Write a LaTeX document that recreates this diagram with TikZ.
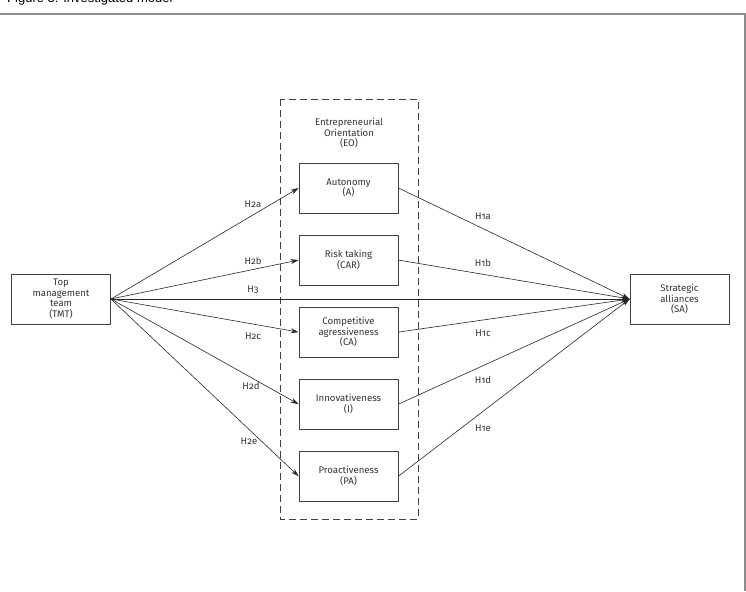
\documentclass[tikz,border=0pt]{standalone}
\usepackage{fontspec}
\setmainfont{Fira Sans}[Numbers=OldStyle]
\newfontfamily\capfont{Liberation Sans}
\usetikzlibrary{arrows.meta,positioning}

\begin{document}
\begin{tikzpicture}[x=1pt, y=-1pt,
  every node/.style={font=\fontsize{9.6}{10.6}\selectfont, text=black!80, align=center},
  box/.style={draw=black!75, line width=0.8pt, minimum width=99pt, minimum height=50pt, inner sep=1pt},
  link/.style={draw=black!85, line width=0.6pt, -{Stealth[length=8pt,width=5pt]}},
  hyp/.style={inner sep=1pt}]
  \useasboundingbox (0,0) rectangle (746,591);
  \clip (0,0) rectangle (746,591);
  % caption, cut off at the top of the page
  \node[anchor=base east, text=black, font=\capfont\fontsize{13}{15}\selectfont] (cap) at (176,3)
    {Figure 3: Investigated model};
  \draw[black!45, line width=1.2pt] (0,14) -- (745,14) -- (745,591);
  % outer constructs
  \node[box] (TMT) at (61,299) {Top\\management\\team\\(TMT)};
  \node[box] (SA) at (679.5,299) {Strategic\\alliances\\(SA)};
  % entrepreneurial orientation dimensions
  \draw[black!75, line width=0.8pt, dash pattern=on 7pt off 4pt] (280,99) rectangle (418,519);
  \node (EO) at (349,133) {Entrepreneurial\\Orientation\\(EO)};
  \node[box] (A) at (348.5,188) {Autonomy\\(A)};
  \node[box, below=21.25pt of A] (CAR) {Risk taking\\(CAR)};
  \node[box, below=21.25pt of CAR] (CA) {Competitive\\agressiveness\\(CA)};
  \node[box, below=21.25pt of CA] (I) {Innovativeness\\(I)};
  \node[box, below=21.25pt of I] (PA) {Proactiveness\\(PA)};
  % TMT -> dimensions
  \foreach \d in {A,CAR,CA,I,PA}
    \draw[link] (TMT.east) -- (\d.west);
  % dimensions -> SA
  \foreach \d in {A,CAR,CA,I,PA}
    \draw[link] (\d.east) -- (SA.west);
  % direct effect
  \draw[link] (TMT.east) -- (SA.west);
  % hypotheses
  \node[hyp] (H2a) at (253,204) {H2a};
  \node[hyp] (H2b) at (253,261) {H2b};
  \node[hyp] (H3) at (253,290) {H3};
  \node[hyp] (H2c) at (253,336) {H2c};
  \node[hyp] (H2d) at (251,386) {H2d};
  \node[hyp] (H2e) at (249,441) {H2e};
  \node[hyp] (H1a) at (483,216) {H1a};
  \node[hyp] (H1b) at (483,263) {H1b};
  \node[hyp] (H1c) at (483,333) {H1c};
  \node[hyp] (H1d) at (483,380) {H1d};
  \node[hyp] (H1e) at (483,428) {H1e};
\end{tikzpicture}
\end{document}
